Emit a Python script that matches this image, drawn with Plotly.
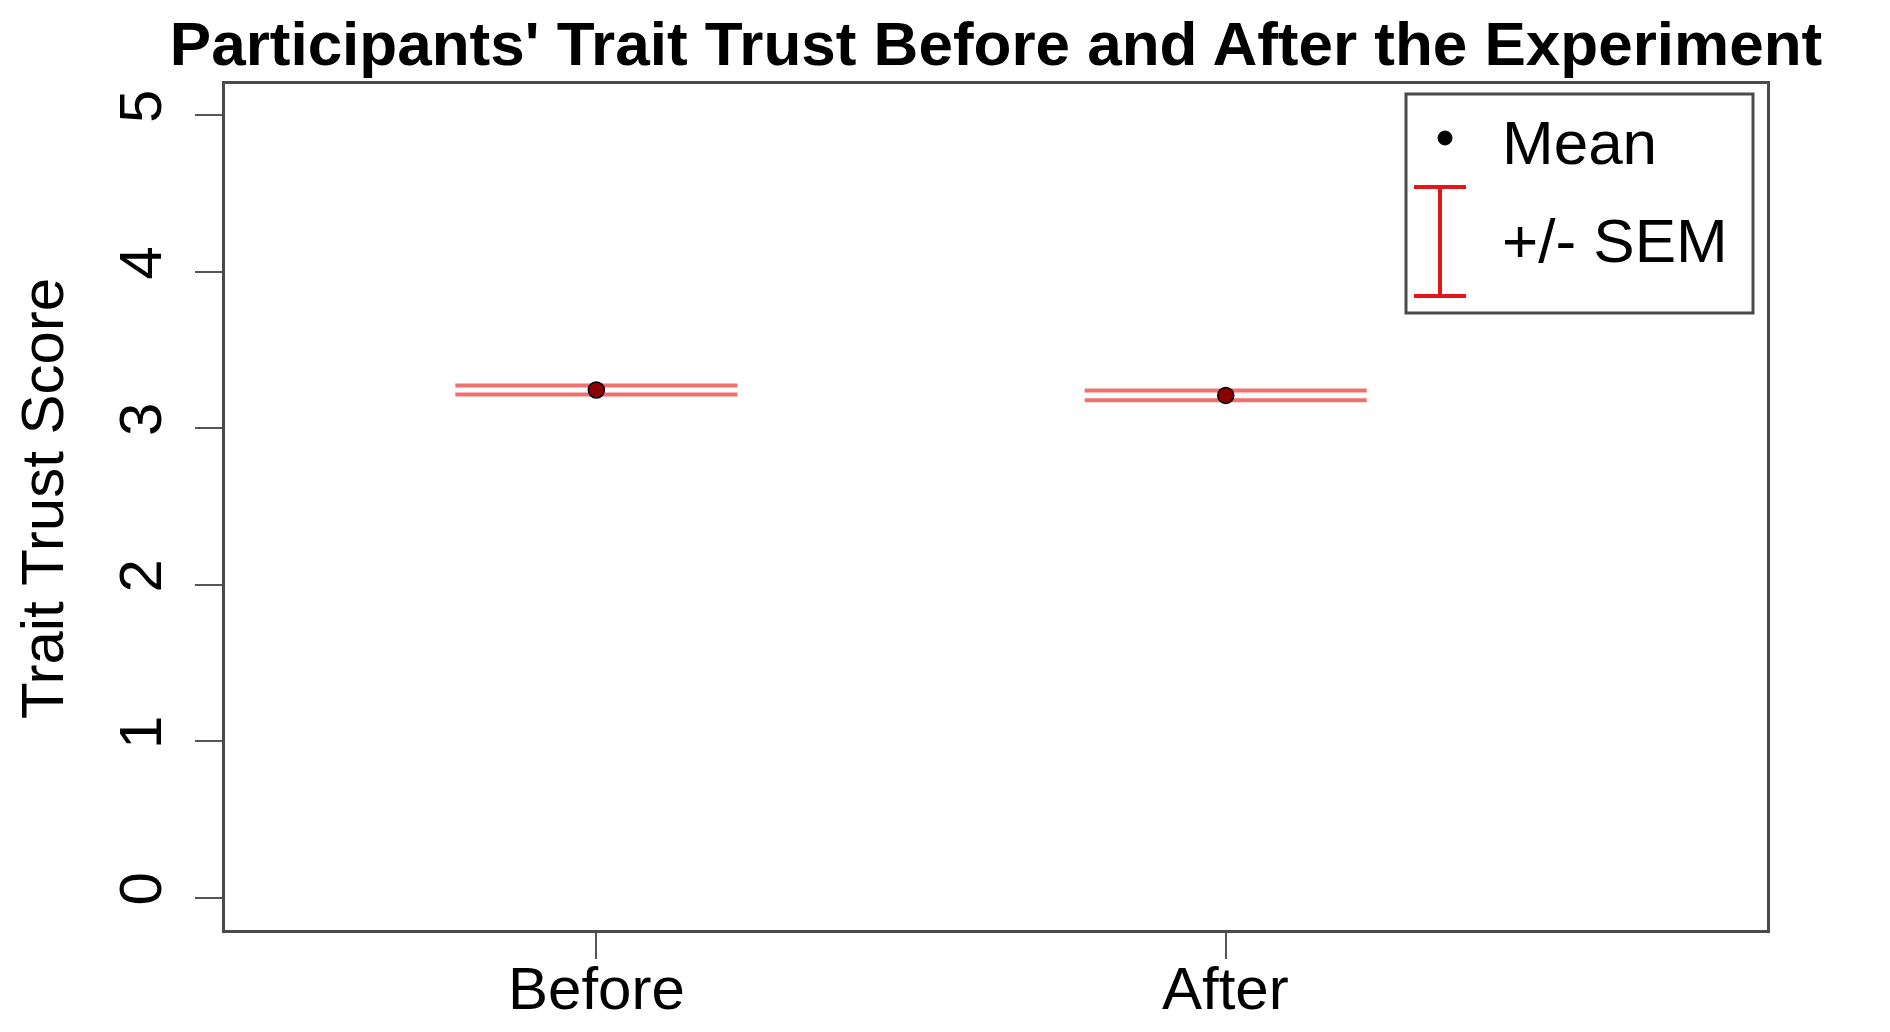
import plotly.graph_objects as go

# data
phases = ["Before", "After"]
phase_pos = [1, 2]
trust_mean = [3.245, 3.21]
trust_sem = [0.029, 0.031]
y_ticks = [0, 1, 2, 3, 4, 5]

# the page body has an 8px margin, so the figure is drawn 8px in from the corner
OFF = 8
W, H = 1890 - 2 * OFF, 1032 - 2 * OFF
# plot area in screenshot pixels
PL, PR, PT, PB = 225, 1767, 84, 930
FONT = "Liberation Sans, Arial, sans-serif"
BOX = "#4a4a4a"
RED = "#e8141c"


def px(x):
    return (x - PL) / (PR - PL)


def py(y):
    return (PB - y) / (PB - PT)


fig = go.Figure()

fig.add_trace(go.Scatter(
    x=phase_pos, y=trust_mean, mode="markers", showlegend=False,
    marker=dict(size=16, color="#8b0000", line=dict(color="black", width=1.5)),
    error_y=dict(type="data", array=trust_sem, visible=True,
                 color="#f07070", thickness=4, width=141),
))

fig.update_layout(
    width=W, height=H,
    margin=dict(l=PL - OFF, r=W - (PR - OFF), t=PT - OFF, b=H - (PB - OFF), autoexpand=False),
    plot_bgcolor="white", paper_bgcolor="white",
    font=dict(family=FONT, size=60, color="black"),
    title=dict(text="<b>Participants' Trait Trust Before and After the Experiment</b>",
               x=0.5, xref="paper", xanchor="center",
               y=1 - (43 - OFF) / H, yref="container", yanchor="middle",
               font=dict(size=62)),
    xaxis=dict(
        range=[0.41, 2.86], tickvals=phase_pos, showticklabels=False,
        showgrid=False, zeroline=False,
        showline=True, mirror=True, linecolor=BOX, linewidth=3,
        ticks="outside", ticklen=26, tickwidth=2, tickcolor="#555",
    ),
    yaxis=dict(
        range=[-0.206, 5.2], tickvals=y_ticks, tickangle=-90,
        showgrid=False, zeroline=False,
        showline=True, mirror=True, linecolor=BOX, linewidth=3,
        ticks="outside", ticklen=27, tickwidth=2, tickcolor="#555",
        ticklabelstandoff=10,
    ),
)

# category labels under the ticks, placed where R put them
for pos, name in zip(phase_pos, phases):
    fig.add_annotation(text=name, xref="x", yref="paper",
                       x=pos, y=py(988), xanchor="center", yanchor="middle",
                       showarrow=False, font=dict(size=60))

# y-axis title placed where R put it
fig.add_annotation(text="Trait Trust Score", xref="paper", yref="paper",
                   x=px(42), y=py(499), xanchor="center", yanchor="middle",
                   textangle=-90, showarrow=False, font=dict(size=60))

# legend drawn in R style: box, dot, error-bar glyph
shapes = [
    dict(type="rect", xref="paper", yref="paper",
         x0=px(1406), x1=px(1753), y0=py(313), y1=py(94),
         line=dict(color=BOX, width=3), fillcolor="white"),
    dict(type="circle", xref="paper", yref="paper",
         x0=px(1438), x1=px(1452), y0=py(145), y1=py(131),
         line=dict(color="black", width=1), fillcolor="black"),
    dict(type="line", xref="paper", yref="paper",
         x0=px(1440), x1=px(1440), y0=py(187), y1=py(296),
         line=dict(color=RED, width=4)),
    dict(type="line", xref="paper", yref="paper",
         x0=px(1414), x1=px(1466), y0=py(187), y1=py(187),
         line=dict(color=RED, width=4)),
    dict(type="line", xref="paper", yref="paper",
         x0=px(1414), x1=px(1466), y0=py(296), y1=py(296),
         line=dict(color=RED, width=4)),
]
fig.update_layout(shapes=shapes)
for label, yc in [("Mean", 142), ("+/- SEM", 240)]:
    fig.add_annotation(text=label, xref="paper", yref="paper",
                       x=px(1500), y=py(yc), xanchor="left", yanchor="middle",
                       showarrow=False, font=dict(size=62))

fig.write_html("out.html")
